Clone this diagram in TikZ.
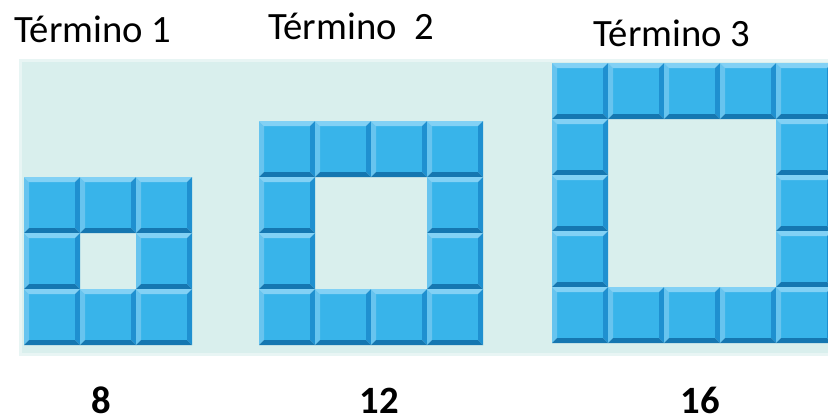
\documentclass[tikz,border=0pt]{standalone}
\usepackage{fontspec}
\setmainfont{Carlito}
\usepackage{tikz}

\definecolor{paneteal}{HTML}{D9EFED}
\definecolor{panefade}{HTML}{E8F5F4}
\definecolor{tileface}{HTML}{38B4EA}
\definecolor{tiletop}{HTML}{82D1F5}
\definecolor{tileleft}{HTML}{67C4EF}
\definecolor{tileright}{HTML}{1F90D0}
\definecolor{tilebottom}{HTML}{1577B1}

\tikzset{
	tile/.pic={
		\fill[tileface] (5,5) rectangle (51,51);
		\fill[tiletop] (0,0) -- (56,0) -- (51,5) -- (5,5) -- cycle;
		\fill[tileleft] (0,0) -- (5,5) -- (5,51) -- (0,56) -- cycle;
		\fill[tileright] (56,0) -- (56,56) -- (51,51) -- (51,5) -- cycle;
		\fill[tilebottom] (0,56) -- (56,56) -- (51,51) -- (5,51) -- cycle;
	},
	termlabel/.style={anchor=base, font=\fontsize{29}{34}\selectfont},
	countlabel/.style={anchor=base, inner sep=0pt, font=\fontsize{29}{34}\selectfont\bfseries}
}

\begin{document}
\begin{tikzpicture}[x=0.75pt, y=-0.75pt]
	\useasboundingbox (0,0) rectangle (828,419);
	\clip (0,0) rectangle (828,419);
	% pale panel behind the figures
	\fill[panefade] (19,59) rectangle (832,356);
	\fill[paneteal] (22,62) rectangle (832,353);
	% square rings of tiles, n tiles per side
	\foreach \ox/\oy/\n in {24/177/3, 259/121/4, 552/63/5} {
		\foreach \i in {1,...,\n} {
			\foreach \j in {1,...,\n} {
				\pgfmathtruncatemacro\rim{or(or(\i==1,\j==1),or(\i==\n,\j==\n))}
				\ifnum\rim=1
					\pic at ({\ox+56*(\i-1)},{\oy+56*(\j-1)}) {tile};
				\fi
			}
		}
	}
	\node[termlabel] (t1) at (93,42) {Término 1};
	\node[termlabel] (t2) at (351,39) {Término\ \ 2};
	\node[termlabel] (t3) at (672,46) {Término 3};
	\node[countlabel] (n1) at (101,413) {8};
	\node[countlabel] (n2) at (379,413) {12};
	\node[countlabel] (n3) at (700,413) {16};
\end{tikzpicture}
\end{document}
